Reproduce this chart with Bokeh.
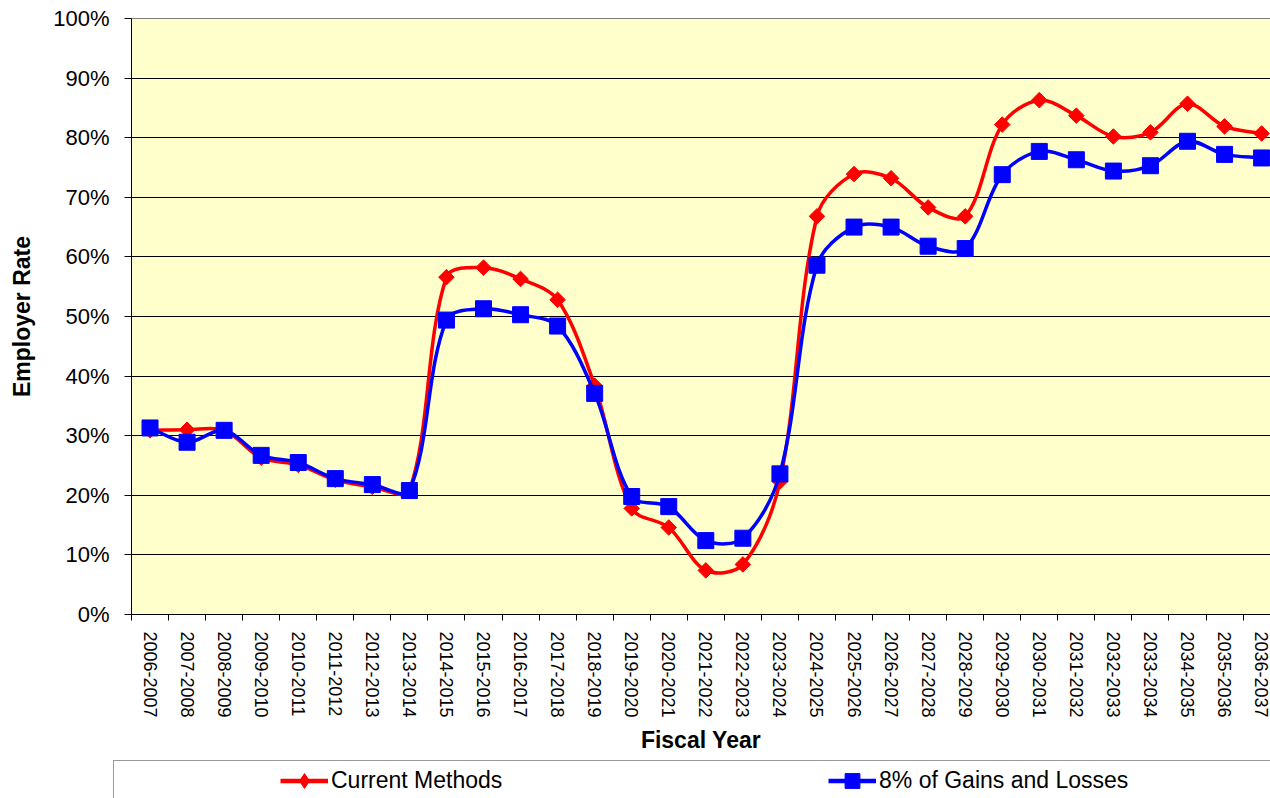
import numpy as np
from bokeh.plotting import figure
from bokeh.layouts import column
from bokeh.models import Range1d, FixedTicker, LinearAxis, Legend, LegendItem
from bokeh.embed import file_html
from bokeh.resources import INLINE

years = ["2006-2007", "2007-2008", "2008-2009", "2009-2010", "2010-2011",
         "2011-2012", "2012-2013", "2013-2014", "2014-2015", "2015-2016",
         "2016-2017", "2017-2018", "2018-2019", "2019-2020", "2020-2021",
         "2021-2022", "2022-2023", "2023-2024", "2024-2025", "2025-2026",
         "2026-2027", "2027-2028", "2028-2029", "2029-2030", "2030-2031",
         "2031-2032", "2032-2033", "2033-2034", "2034-2035", "2035-2036",
         "2036-2037"]

current_methods = [30.9, 31.0, 30.9, 26.3, 25.1, 22.6, 21.4, 20.8, 56.6, 58.2,
                   56.3, 52.8, 38.4, 17.8, 14.6, 7.4, 8.4, 22.3, 66.8, 73.9,
                   73.2, 68.3, 66.8, 82.2, 86.3, 83.7, 80.2, 80.9, 85.7, 81.9,
                   80.7]

gains_losses_8 = [31.3, 28.9, 30.9, 26.7, 25.5, 22.8, 21.8, 20.8, 49.4, 51.3,
                  50.3, 48.4, 37.1, 19.8, 18.1, 12.4, 12.8, 23.6, 58.6, 65.0,
                  65.0, 61.8, 61.4, 73.8, 77.7, 76.3, 74.4, 75.3, 79.4, 77.2,
                  76.6]

y_ticks = [0, 10, 20, 30, 40, 50, 60, 70, 80, 90, 100]
y_tick_labels = ["0%", "10%", "20%", "30%", "40%", "50%", "60%", "70%",
                 "80%", "90%", "100%"]
series_names = ["Current Methods", "8% of Gains and Losses"]

FONT = "Liberation Sans"
RED = "#FF0000"
BLUE = "#0000FF"

W = 1270
H_MAIN = 760
H_LEG = 38
FRAME_L, FRAME_T, FRAME_B = 131, 18, 614
X_END = 30.74

xc = np.arange(len(years)) + 0.5
xb = np.arange(len(years) + 1).astype(float)

# pixel scale (for screen-space smoothing like the spreadsheet's smooth lines)
sx = (W - FRAME_L) / X_END
sy = (FRAME_B - FRAME_T) / 100.0


def smooth_segments(xs, ys):
    P = np.column_stack([np.asarray(xs, float) * sx, np.asarray(ys, float) * sy])
    n = len(P)
    out = {k: [] for k in ("x0", "y0", "x1", "y1", "cx0", "cy0", "cx1", "cy1")}

    def ctrl(i):
        prev = P[max(i - 1, 0)]
        nxt = P[min(i + 1, n - 1)]
        T = nxt - prev
        d_in = np.hypot(*(P[i] - prev))
        d_out = np.hypot(*(nxt - P[i]))
        tot = d_in + d_out
        if tot == 0:
            return P[i], P[i]
        c_out = P[i] + T * (d_out / tot) / 3.0
        c_in = P[i] - T * (d_in / tot) / 3.0
        return c_in, c_out

    ctr = [ctrl(i) for i in range(n)]
    for i in range(n - 1):
        a, b = P[i], P[i + 1]
        c1 = ctr[i][1]
        c2 = ctr[i + 1][0]
        out["x0"].append(a[0] / sx); out["y0"].append(a[1] / sy)
        out["x1"].append(b[0] / sx); out["y1"].append(b[1] / sy)
        out["cx0"].append(c1[0] / sx); out["cy0"].append(c1[1] / sy)
        out["cx1"].append(c2[0] / sx); out["cy1"].append(c2[1] / sy)
    return out


p = figure(width=W, height=H_MAIN,
           x_range=Range1d(0, X_END), y_range=Range1d(0, 100),
           output_backend="svg", toolbar_location=None,
           min_border_left=FRAME_L, min_border_right=0,
           min_border_top=FRAME_T, min_border_bottom=H_MAIN - FRAME_B,
           background_fill_color="#FFFFCC", border_fill_color="white",
           outline_line_color=None)
p.frame_align = False

# grid
p.xgrid.visible = False
p.ygrid.ticker = FixedTicker(ticks=y_ticks[1:-1])
p.ygrid.grid_line_color = "black"
p.ygrid.grid_line_width = 1

# y axis
ya = p.yaxis[0]
ya.ticker = FixedTicker(ticks=y_ticks)
ya.major_label_overrides = {t: l for t, l in zip(y_ticks, y_tick_labels)}
ya.major_tick_out = 7
ya.major_tick_in = 0
ya.minor_tick_out = 0
ya.minor_tick_in = 0
ya.major_label_standoff = 15
ya.major_label_text_font = FONT
ya.major_label_text_font_size = "22px"
ya.major_label_text_color = "black"
ya.axis_line_color = "black"
ya.major_tick_line_color = "black"
ya.axis_label = "Employer Rate"
ya.axis_label_text_font = FONT
ya.axis_label_text_font_size = "23px"
ya.axis_label_text_font_style = "bold"
ya.axis_label_text_color = "black"
ya.axis_label_standoff = 15

# x axis
xa = p.xaxis[0]
xa.ticker = FixedTicker(ticks=list(xc), minor_ticks=list(xb))
xa.major_label_overrides = {float(c): y for c, y in zip(xc, years)}
xa.major_label_orientation = "vertical"
xa.major_tick_out = 0
xa.major_tick_in = 0
xa.minor_tick_out = 6
xa.minor_tick_in = 0
xa.minor_tick_line_color = "black"
xa.major_label_standoff = 11
xa.major_label_text_font = FONT
xa.major_label_text_font_size = "18px"
xa.major_label_text_color = "black"
xa.axis_line_color = "black"
xa.axis_label = "Fiscal Year"
xa.axis_label_text_font = FONT
xa.axis_label_text_font_size = "23px"
xa.axis_label_text_font_style = "bold"
xa.axis_label_text_color = "black"
xa.axis_label_standoff = 6

# top border of the plot area
top = LinearAxis(ticker=FixedTicker(ticks=[]), axis_line_color="#808080",
                 major_tick_out=0, major_tick_in=0, minor_tick_out=0,
                 minor_tick_in=0, major_label_text_font_size="0px",
                 major_label_standoff=0)
p.add_layout(top, "above")

# series
seg_r = smooth_segments(xc, current_methods)
seg_b = smooth_segments(xc, gains_losses_8)

p.bezier(x0=seg_r["x0"], y0=seg_r["y0"], x1=seg_r["x1"], y1=seg_r["y1"],
         cx0=seg_r["cx0"], cy0=seg_r["cy0"], cx1=seg_r["cx1"], cy1=seg_r["cy1"],
         line_color=RED, line_width=3.5)
p.scatter(x=xc, y=current_methods, marker="square", angle=np.pi / 4,
          size=11, fill_color=RED, line_color=RED)
p.bezier(x0=seg_b["x0"], y0=seg_b["y0"], x1=seg_b["x1"], y1=seg_b["y1"],
         cx0=seg_b["cx0"], cy0=seg_b["cy0"], cx1=seg_b["cx1"], cy1=seg_b["cy1"],
         line_color=BLUE, line_width=3.5)
p.scatter(x=xc, y=gains_losses_8, marker="square", size=16,
          fill_color=BLUE, line_color=BLUE)

# legend strip (separate figure so the box can run off the edges);
# its ranges keep the series out of view, they only feed the legend glyphs
p2 = figure(width=W, height=H_LEG, x_range=Range1d(0, 1), y_range=Range1d(-2, -1),
            x_axis_type=None, y_axis_type=None,
            output_backend="svg", toolbar_location=None,
            min_border_left=0, min_border_right=0, min_border_top=0,
            min_border_bottom=0, outline_line_color=None,
            background_fill_color="white", border_fill_color="white")
p2.frame_align = False

r_line = p2.line(x=xc, y=current_methods, line_color=RED, line_width=4.5)
r_mark = p2.scatter(x=xc, y=current_methods, marker="diamond",
                    fill_color=RED, line_color=RED)
b_line = p2.line(x=xc, y=gains_losses_8, line_color=BLUE, line_width=4.5)
b_mark = p2.scatter(x=xc, y=gains_losses_8, marker="square",
                    fill_color=BLUE, line_color=BLUE)
dummy = p2.line(x=xc, y=gains_losses_8, line_alpha=0)

box_pad = 600
box_item_h = 26
legend_box = Legend(items=[LegendItem(label=" ", renderers=[dummy])],
                    location=(113, H_LEG - 2 - (2 * box_pad + box_item_h)),
                    padding=box_pad, glyph_height=box_item_h,
                    label_height=box_item_h, glyph_width=10,
                    label_text_alpha=0,
                    border_line_color="#333333", border_line_width=1,
                    background_fill_color="white", background_fill_alpha=1)
p2.add_layout(legend_box, "center")

item_h = 37
legend = Legend(items=[LegendItem(label=series_names[0], renderers=[r_line, r_mark]),
                       LegendItem(label=series_names[1], renderers=[b_line, b_mark])],
                orientation="horizontal",
                location=(280, H_LEG - (20 - item_h / 2) - item_h), padding=0,
                glyph_width=48, glyph_height=item_h, label_height=item_h,
                label_standoff=3, label_width=260, spacing=237,
                label_text_font=FONT, label_text_font_size="23px",
                label_text_color="black",
                border_line_color=None, background_fill_alpha=0)
p2.add_layout(legend, "center")

layout = column(p, p2, spacing=0)
open("out.html", "w").write(file_html(layout, INLINE))
